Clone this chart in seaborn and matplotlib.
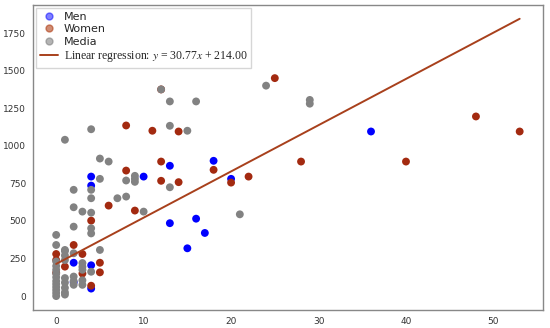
import pandas as pd
import numpy as np
import matplotlib
matplotlib.use('Agg')
import matplotlib.pyplot as plt
import seaborn as sns
from matplotlib.lines import Line2D

# data (x = count, y = value)
men_x = [4, 4, 10, 13, 13, 16, 15, 2, 4, 2, 4, 18, 20, 17, 36]
men_y = [795, 735, 795, 867, 485, 515, 318, 222, 205, 92, 50, 900, 780, 420, 1095]

women_x = [8, 11, 14, 12, 8, 12, 14, 6, 9, 4, 0, 0, 0, 2, 3, 1, 5, 5, 3, 4,
           25, 18, 20, 22, 28, 40, 48, 53, 12]
women_y = [1135, 1100, 1095, 895, 835, 767, 758, 602, 569, 502, 280, 240, 155, 340, 280, 196, 222, 158, 150, 69,
           1450, 840, 755, 795, 895, 895, 1195, 1095, 1375]

media_x = [1, 4, 5, 6, 5, 2, 2, 3, 4, 4, 4, 4, 4, 2, 0, 0, 1, 5, 7, 8, 8, 9, 9, 9, 10,
           13, 13, 13, 15, 16, 12, 24, 29, 29, 21,
           0, 0, 0, 0, 0, 0, 0, 0, 0, 0, 0,
           1, 1, 1, 1, 1, 1, 1, 1,
           2, 2, 2, 2,
           3, 3, 3, 3, 3,
           4]
media_y = [1040, 1110, 915, 895, 780, 707, 591, 562, 707, 651, 555, 451, 417, 462, 407, 340, 307, 307, 651, 662, 769, 760, 780, 800, 562,
           724, 1133, 1295, 1100, 1295, 1375, 1400, 1280, 1305, 544,
           0, 20, 40, 60, 80, 100, 125, 150, 175, 200, 230,
           300, 270, 240, 120, 90, 55, 25, 10,
           285, 130, 100, 75,
           220, 195, 175, 105, 75,
           162]

slope, intercept = 30.77, 214.00

df = pd.concat([
    pd.DataFrame({'x': men_x, 'y': men_y, 'group': 'Men'}),
    pd.DataFrame({'x': women_x, 'y': women_y, 'group': 'Women'}),
    pd.DataFrame({'x': media_x, 'y': media_y, 'group': 'Media'}),
])
palette = {'Men': '#0000ff', 'Women': '#a32a10', 'Media': '#828282'}

sns.set_style('white')
plt.rcParams['font.family'] = ['DejaVu Sans']
plt.rcParams['mathtext.fontset'] = 'stix'

fig = plt.figure(figsize=(5.5, 3.28), dpi=100)
ax = fig.add_axes([0.06, 0.055, 0.927, 0.93])

sns.scatterplot(data=df, x='x', y='y', hue='group', palette=palette,
                s=32, linewidth=0, ax=ax, legend=False)

xs = np.array([0, max(women_x)])
sns.lineplot(x=xs, y=slope * xs + intercept, color='#a8401c', linewidth=1.4, ax=ax)

ax.set_xlabel('')
ax.set_ylabel('')
ax.set_xticks([0, 10, 20, 30, 40, 50])
ax.set_yticks([0, 250, 500, 750, 1000, 1250, 1500, 1750])
ax.tick_params(labelsize=6.5, colors='#333333', length=3, width=0.8, pad=2)
for sp in ax.spines.values():
    sp.set_color('#888888')
    sp.set_linewidth(1.0)

handles = [
    Line2D([], [], marker='o', ls='', color='#0000ff', alpha=0.5, markersize=5),
    Line2D([], [], marker='o', ls='', color='#b04018', alpha=0.6, markersize=5),
    Line2D([], [], marker='o', ls='', color='#828282', alpha=0.6, markersize=5),
    Line2D([], [], color='#a8401c', linewidth=1.4),
]
labels = ['Men', 'Women', 'Media', r'Linear regression: $y$ = 30.77$x$ + 214.00']
leg = ax.legend(handles, labels, loc='upper left', fontsize=8, frameon=True,
                borderpad=0.35, labelspacing=0.2, handlelength=1.6, handletextpad=0.5,
                borderaxespad=0.3, fancybox=False)
leg.get_frame().set_edgecolor('#cccccc')
leg.get_texts()[3].set_family('Liberation Serif')
leg.get_texts()[3].set_fontsize(8.5)

fig.savefig('out.png', dpi=100)
